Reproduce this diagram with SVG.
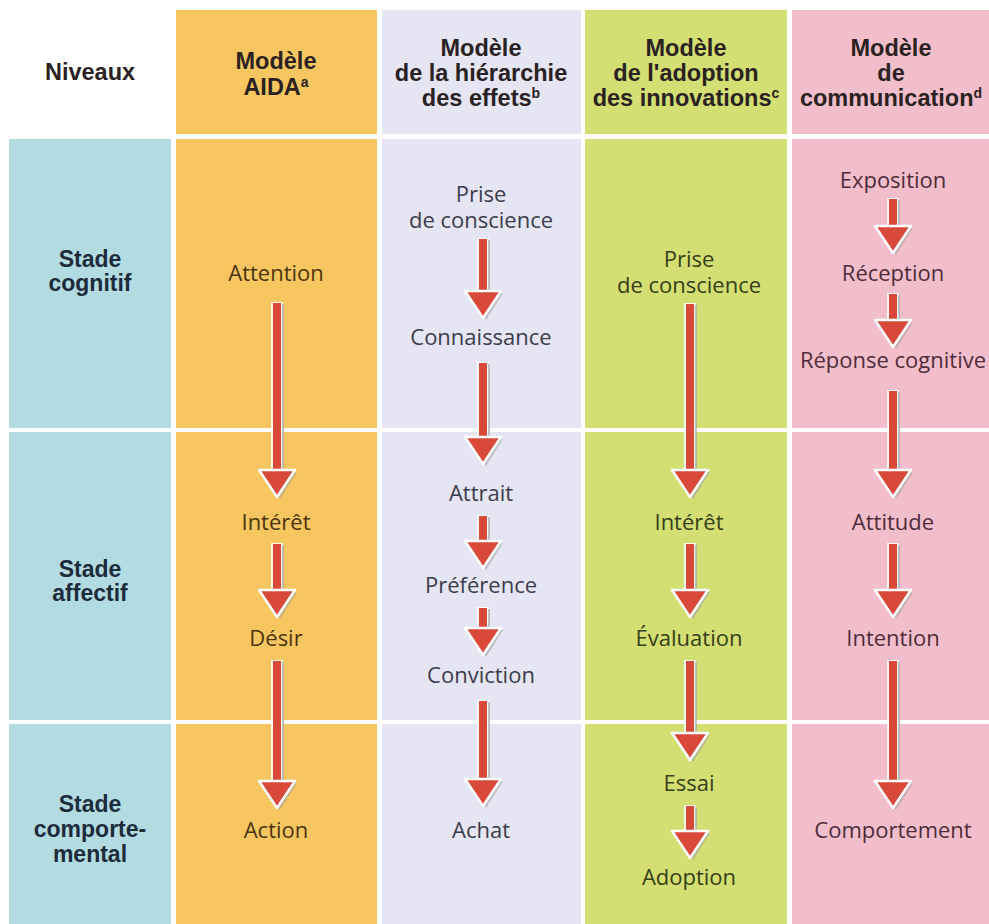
<svg xmlns="http://www.w3.org/2000/svg" xmlns:xlink="http://www.w3.org/1999/xlink" width="989" height="924" viewBox="0 0 989 924">
  <style>
    .hdr { font-family: "Liberation Sans", Arial, sans-serif; font-weight: bold; font-size: 23.5px; fill: #2a2222; text-anchor: middle; }
    .lvl { font-family: "Liberation Sans", Arial, sans-serif; font-weight: bold; font-size: 23px; fill: #1d2b3b; text-anchor: middle; }
    .lbl { font-family: "Open Sans", "Liberation Sans", sans-serif; font-size: 22px; text-anchor: middle; }
    .c-aida { fill: #4a3410; }
    .c-hier { fill: #3c3c4c; }
    .c-adop { fill: #34401a; }
    .c-comm { fill: #4e2c3a; }
    .sup { font-size: 14px; }
    .edge { stroke: #ffffff; stroke-width: 12; stroke-opacity: 0.85; }
    .shade { stroke: #a9a9a9; stroke-width: 2; stroke-opacity: 0.7; }
    .shaft { stroke: #d9493a; stroke-width: 8; }
  </style>
  <defs>
    <!-- arrowhead, tip at origin -->
    <g id="head">
      <polygon points="-16,-25 20,-25 3,2" fill="#9d9d9d" fill-opacity="0.55"/>
      <polygon points="-18,-27 18,-27 0,0" fill="#d9493a" stroke="#ffffff" stroke-width="2.5" stroke-linejoin="round"/>
    </g>
  </defs>

  <rect width="989" height="924" fill="#ffffff"/>

  <!-- header row -->
  <g id="headers">
    <rect x="176" y="10" width="201" height="124" fill="#f8c660"/>
    <rect x="382" y="10" width="199" height="124" fill="#e5e5f3"/>
    <rect x="585" y="10" width="202" height="124" fill="#d3de73"/>
    <rect x="792" y="10" width="197" height="124" fill="#f3becb"/>
  </g>

  <!-- body cells -->
  <g id="cells">
    <rect x="9" y="139" width="162" height="289" fill="#b3dbe2"/>
    <rect x="9" y="432" width="162" height="288" fill="#b3dbe2"/>
    <rect x="9" y="724" width="162" height="200" fill="#b3dbe2"/>
    <rect x="176" y="139" width="201" height="289" fill="#f8c660"/>
    <rect x="176" y="432" width="201" height="288" fill="#f8c660"/>
    <rect x="176" y="724" width="201" height="200" fill="#f8c660"/>
    <rect x="382" y="139" width="199" height="289" fill="#e5e5f3"/>
    <rect x="382" y="432" width="199" height="288" fill="#e5e5f3"/>
    <rect x="382" y="724" width="199" height="200" fill="#e5e5f3"/>
    <rect x="585" y="139" width="202" height="289" fill="#d3de73"/>
    <rect x="585" y="432" width="202" height="288" fill="#d3de73"/>
    <rect x="585" y="724" width="202" height="200" fill="#d3de73"/>
    <rect x="792" y="139" width="197" height="289" fill="#f3becb"/>
    <rect x="792" y="432" width="197" height="288" fill="#f3becb"/>
    <rect x="792" y="724" width="197" height="200" fill="#f3becb"/>
  </g>

  <!-- column headings -->
  <g id="h-niveaux"><text class="hdr" x="90" y="80">Niveaux</text></g>
  <g id="h-aida">
    <text class="hdr" x="276" y="69">Modèle</text>
    <text class="hdr" x="276" y="95">AIDA<tspan class="sup" dy="-8">a</tspan></text>
  </g>
  <g id="h-hier">
    <text class="hdr" x="481" y="56">Modèle</text>
    <text class="hdr" x="481" y="81">de la hiérarchie</text>
    <text class="hdr" x="481" y="106">des effets<tspan class="sup" dy="-8">b</tspan></text>
  </g>
  <g id="h-adop">
    <text class="hdr" x="686" y="56">Modèle</text>
    <text class="hdr" x="686" y="81">de l'adoption</text>
    <text class="hdr" x="686" y="106">des innovations<tspan class="sup" dy="-8">c</tspan></text>
  </g>
  <g id="h-comm">
    <text class="hdr" x="891" y="56">Modèle</text>
    <text class="hdr" x="891" y="81">de</text>
    <text class="hdr" x="891" y="106">communication<tspan class="sup" dy="-8">d</tspan></text>
  </g>

  <!-- level labels -->
  <g id="lvl-cognitif">
    <text class="lvl" x="90" y="267">Stade</text>
    <text class="lvl" x="90" y="291">cognitif</text>
  </g>
  <g id="lvl-affectif">
    <text class="lvl" x="90" y="577">Stade</text>
    <text class="lvl" x="90" y="601">affectif</text>
  </g>
  <g id="lvl-comportemental">
    <text class="lvl" x="90" y="812">Stade</text>
    <text class="lvl" x="90" y="837">comporte-</text>
    <text class="lvl" x="90" y="862">mental</text>
  </g>

  <!-- AIDA steps -->
  <g id="aida-attention"><text class="lbl c-aida" x="276" y="281">Attention</text></g>
  <g id="aida-interet"><text class="lbl c-aida" x="276" y="530">Intérêt</text></g>
  <g id="aida-desir"><text class="lbl c-aida" x="276" y="646">Désir</text></g>
  <g id="aida-action"><text class="lbl c-aida" x="276" y="838">Action</text></g>

  <!-- hierarchy of effects steps -->
  <g id="hier-prise">
    <text class="lbl c-hier" x="481" y="202">Prise</text>
    <text class="lbl c-hier" x="481" y="228">de conscience</text>
  </g>
  <g id="hier-connaissance"><text class="lbl c-hier" x="481" y="345">Connaissance</text></g>
  <g id="hier-attrait"><text class="lbl c-hier" x="481" y="501">Attrait</text></g>
  <g id="hier-preference"><text class="lbl c-hier" x="481" y="593">Préférence</text></g>
  <g id="hier-conviction"><text class="lbl c-hier" x="481" y="683">Conviction</text></g>
  <g id="hier-achat"><text class="lbl c-hier" x="481" y="838">Achat</text></g>

  <!-- innovation adoption steps -->
  <g id="adop-prise">
    <text class="lbl c-adop" x="689" y="267">Prise</text>
    <text class="lbl c-adop" x="689" y="293">de conscience</text>
  </g>
  <g id="adop-interet"><text class="lbl c-adop" x="689" y="530">Intérêt</text></g>
  <g id="adop-evaluation"><text class="lbl c-adop" x="689" y="646">Évaluation</text></g>
  <g id="adop-essai"><text class="lbl c-adop" x="689" y="791">Essai</text></g>
  <g id="adop-adoption"><text class="lbl c-adop" x="689" y="885">Adoption</text></g>

  <!-- communication steps -->
  <g id="comm-exposition"><text class="lbl c-comm" x="893" y="188">Exposition</text></g>
  <g id="comm-reception"><text class="lbl c-comm" x="893" y="281">Réception</text></g>
  <g id="comm-reponse"><text class="lbl c-comm" x="893" y="368">Réponse cognitive</text></g>
  <g id="comm-attitude"><text class="lbl c-comm" x="893" y="530">Attitude</text></g>
  <g id="comm-intention"><text class="lbl c-comm" x="893" y="646">Intention</text></g>
  <g id="comm-comportement"><text class="lbl c-comm" x="893" y="838">Comportement</text></g>

  <!-- connectors: shaft outline, shaft, shade, head -->
  <g id="connectors">
    <!-- AIDA -->
    <line class="edge" x1="277" y1="302" x2="277" y2="472"/><line class="shaft" x1="277" y1="303" x2="277" y2="472"/><line class="shade" x1="283" y1="304" x2="283" y2="470"/><use xlink:href="#head" x="277" y="497"/>
    <line class="edge" x1="277" y1="543" x2="277" y2="592"/><line class="shaft" x1="277" y1="544" x2="277" y2="592"/><line class="shade" x1="283" y1="545" x2="283" y2="590"/><use xlink:href="#head" x="277" y="617"/>
    <line class="edge" x1="277" y1="660" x2="277" y2="783"/><line class="shaft" x1="277" y1="661" x2="277" y2="783"/><line class="shade" x1="283" y1="662" x2="283" y2="781"/><use xlink:href="#head" x="277" y="808"/>
    <!-- hierarchy of effects -->
    <line class="edge" x1="483" y1="238" x2="483" y2="293"/><line class="shaft" x1="483" y1="239" x2="483" y2="293"/><line class="shade" x1="489" y1="240" x2="489" y2="291"/><use xlink:href="#head" x="483" y="318"/>
    <line class="edge" x1="483" y1="362" x2="483" y2="439"/><line class="shaft" x1="483" y1="363" x2="483" y2="439"/><line class="shade" x1="489" y1="364" x2="489" y2="437"/><use xlink:href="#head" x="483" y="464"/>
    <line class="edge" x1="483" y1="515" x2="483" y2="543"/><line class="shaft" x1="483" y1="516" x2="483" y2="543"/><line class="shade" x1="489" y1="517" x2="489" y2="541"/><use xlink:href="#head" x="483" y="568"/>
    <line class="edge" x1="483" y1="607" x2="483" y2="630"/><line class="shaft" x1="483" y1="608" x2="483" y2="630"/><line class="shade" x1="489" y1="609" x2="489" y2="628"/><use xlink:href="#head" x="483" y="655"/>
    <line class="edge" x1="483" y1="700" x2="483" y2="781"/><line class="shaft" x1="483" y1="701" x2="483" y2="781"/><line class="shade" x1="489" y1="702" x2="489" y2="779"/><use xlink:href="#head" x="483" y="806"/>
    <!-- innovation adoption -->
    <line class="edge" x1="690" y1="303" x2="690" y2="472"/><line class="shaft" x1="690" y1="304" x2="690" y2="472"/><line class="shade" x1="696" y1="305" x2="696" y2="470"/><use xlink:href="#head" x="690" y="497"/>
    <line class="edge" x1="690" y1="543" x2="690" y2="592"/><line class="shaft" x1="690" y1="544" x2="690" y2="592"/><line class="shade" x1="696" y1="545" x2="696" y2="590"/><use xlink:href="#head" x="690" y="617"/>
    <line class="edge" x1="690" y1="660" x2="690" y2="735"/><line class="shaft" x1="690" y1="661" x2="690" y2="735"/><line class="shade" x1="696" y1="662" x2="696" y2="733"/><use xlink:href="#head" x="690" y="760"/>
    <line class="edge" x1="690" y1="805" x2="690" y2="833"/><line class="shaft" x1="690" y1="806" x2="690" y2="833"/><line class="shade" x1="696" y1="807" x2="696" y2="831"/><use xlink:href="#head" x="690" y="858"/>
    <!-- communication -->
    <line class="edge" x1="893" y1="198" x2="893" y2="228"/><line class="shaft" x1="893" y1="199" x2="893" y2="228"/><line class="shade" x1="899" y1="200" x2="899" y2="226"/><use xlink:href="#head" x="893" y="253"/>
    <line class="edge" x1="893" y1="293" x2="893" y2="322"/><line class="shaft" x1="893" y1="294" x2="893" y2="322"/><line class="shade" x1="899" y1="295" x2="899" y2="320"/><use xlink:href="#head" x="893" y="347"/>
    <line class="edge" x1="893" y1="390" x2="893" y2="472"/><line class="shaft" x1="893" y1="391" x2="893" y2="472"/><line class="shade" x1="899" y1="392" x2="899" y2="470"/><use xlink:href="#head" x="893" y="497"/>
    <line class="edge" x1="893" y1="543" x2="893" y2="592"/><line class="shaft" x1="893" y1="544" x2="893" y2="592"/><line class="shade" x1="899" y1="545" x2="899" y2="590"/><use xlink:href="#head" x="893" y="617"/>
    <line class="edge" x1="893" y1="660" x2="893" y2="783"/><line class="shaft" x1="893" y1="661" x2="893" y2="783"/><line class="shade" x1="899" y1="662" x2="899" y2="781"/><use xlink:href="#head" x="893" y="808"/>
  </g>
</svg>
